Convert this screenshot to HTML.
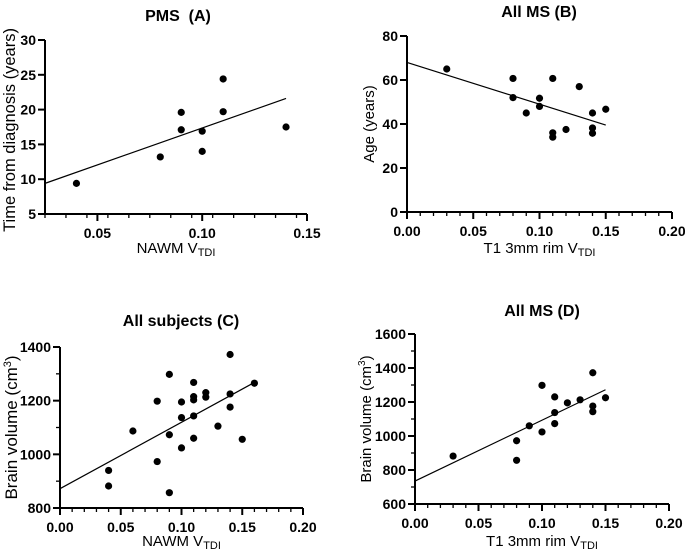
<!DOCTYPE html>
<html><head><meta charset="utf-8"><style>
html,body{margin:0;padding:0;background:#fff}
svg{display:block;font-family:"Liberation Sans",Arial,sans-serif}
</style></head><body>
<svg id="c" width="685" height="550" viewBox="0 0 685 550"></svg>
<script>
// Panel A data
const aX=[0.04,0.08,0.09,0.09,0.10,0.10,0.11,0.11,0.14];
const aY=[9.4,13.2,19.6,17.1,16.9,14.0,24.4,19.7,17.5];
const aFit=[[0.025,9.4],[0.14,21.6]];
const aXTicks=[0.05,0.10,0.15];
const aYTicks=[5,10,15,20,25,30];
// Panel B data
const bX=[0.03,0.08,0.08,0.09,0.10,0.10,0.11,0.11,0.11,0.12,0.13,0.14,0.14,0.14,0.15];
const bY=[65,60.7,52,45,51.7,48,60.7,36,34,37.5,57,45,38.2,35.8,46.7];
const bFit=[[0,68],[0.15,39.5]];
const bXTicks=[0,0.05,0.10,0.15,0.20];
const bYTicks=[0,20,40,60,80];
// Panel C data
const cX=[0.04,0.04,0.06,0.08,0.08,0.09,0.09,0.09,0.10,0.10,0.10,0.11,0.11,0.11,0.11,0.11,0.12,0.12,0.13,0.14,0.14,0.14,0.15,0.16];
const cY=[940,882,1087,1198,973,1298,1073,857,1195,1137,1024,1268,1215,1203,1143,1060,1230,1213,1105,1372,1225,1176,1056,1265];
const cFit=[[0,872],[0.16,1268]];
const cXTicks=[0,0.05,0.10,0.15,0.20];
const cYTicks=[800,1000,1200,1400];
// Panel D data
const dX=[0.03,0.08,0.08,0.09,0.10,0.10,0.11,0.11,0.11,0.12,0.13,0.14,0.14,0.14,0.15];
const dY=[882,972,857,1060,1298,1024,1230,1138,1073,1195,1213,1372,1176,1143,1225];
const dFit=[[0,735],[0.15,1272]];
const dXTicks=[0,0.05,0.10,0.15,0.20];
const dYTicks=[600,800,1000,1200,1400,1600];

const NS="http://www.w3.org/2000/svg";
const svg=document.getElementById('c');
function mk(tag,attrs,parent){const e=document.createElementNS(NS,tag);for(const k in attrs)e.setAttribute(k,attrs[k]);(parent||svg).appendChild(e);return e;}

function panel(o){
  const g=mk('g',{});
  
  
  const sx=v=>o.x0+(v-o.xmin)/(o.xmax-o.xmin)*(o.x1-o.x0);
  const sy=v=>o.y0-(v-o.ymin)/(o.ymax-o.ymin)*(o.y0-o.y1);
  const ax=mk('line',{x1:o.x0,y1:o.y0,x2:o.x1,y2:o.y0,stroke:'#000','stroke-width':2},g);
  
  
  const ay=mk('line',{x1:o.x0,y1:o.y0,x2:o.x0,y2:o.y1,stroke:'#000','stroke-width':2},g);
  
  
  for(let v=o.xmin;v<=o.xmax+1e-9;v+=0.01){const px=sx(v);mk('line',{x1:px,y1:o.y0,x2:px,y2:o.y0+4,stroke:'#000','stroke-width':1.3},g);}
  o.xt.forEach(v=>{const px=sx(v);mk('line',{x1:px,y1:o.y0,x2:px,y2:o.y0+7,stroke:'#000','stroke-width':2},g);
    const t=mk('text',{x:px,y:o.y0+24,'text-anchor':'middle','font-size':14,'font-weight':'bold'},g);t.textContent=v.toFixed(2);
    
    });
  if(o.yminor){for(let v=o.ymin;v<=o.ymax+1e-9;v+=o.yminor){const py=sy(v);mk('line',{x1:o.x0,y1:py,x2:o.x0-4,y2:py,stroke:'#000','stroke-width':1.3},g);}}
  o.yt.forEach(v=>{const py=sy(v);mk('line',{x1:o.x0,y1:py,x2:o.x0-7,y2:py,stroke:'#000','stroke-width':2},g);
    const t=mk('text',{x:o.x0-9,y:py+5,'text-anchor':'end','font-size':14,'font-weight':'bold'},g);t.textContent=v;
    
    });
  const f=mk('line',{x1:sx(o.fit[0][0]),y1:sy(o.fit[0][1]),x2:sx(o.fit[1][0]),y2:sy(o.fit[1][1]),stroke:'#000','stroke-width':1.2},g);
  
  
  o.xs.forEach((v,i)=>{const c=mk('circle',{cx:sx(v),cy:sy(o.ys[i]),r:3.6,fill:'#000'},g);
    
    });
  const ti=mk('text',{x:o.tx,y:o.ty,'text-anchor':'middle','font-size':16,'font-weight':'bold'},g);ti.textContent=o.title;
  
  
  const xl=mk('text',{x:(o.x0+o.x1)/2,y:o.xly,'text-anchor':'middle','font-size':15},g);
  xl.innerHTML=o.xlabel+' V<tspan font-size="11" dy="3">TDI</tspan>';
  
  
  const yc=o.ylc||(o.y0+o.y1)/2;
  const yl=mk('text',{x:o.ylx,y:yc,'text-anchor':'middle','font-size':o.yfs,transform:`rotate(-90 ${o.ylx} ${yc})`},g);
  yl.innerHTML=o.ylabel;
  
  
}
panel({name:'panel-a',x0:45,x1:307,xmin:0.025,xmax:0.15,y0:214,y1:40,ymin:5,ymax:30,xs:aX,ys:aY,fit:aFit,xt:aXTicks,yt:aYTicks,
  title:'PMS\u00a0 (A)',tx:178,ty:21,xlabel:'NAWM',xly:253,ylabel:'Time from diagnosis (years)',ylx:15,ylc:130,yfs:16.5});
panel({name:'panel-b',x0:407,x1:672,xmin:0,xmax:0.2,y0:212,y1:36,ymin:0,ymax:80,xs:bX,ys:bY,fit:bFit,xt:bXTicks,yt:bYTicks,
  title:'All MS (B)',tx:539,ty:17,xlabel:'T1 3mm rim',xly:253,ylabel:'Age (years)',ylx:374,yfs:15});
panel({name:'panel-c',x0:60,x1:303,xmin:0,xmax:0.2,y0:508,y1:347,ymin:800,ymax:1400,yminor:100,xs:cX,ys:cY,fit:cFit,xt:cXTicks,yt:cYTicks,
  title:'All subjects (C)',tx:181,ty:326,xlabel:'NAWM',xly:546,ylabel:'Brain volume (cm<tspan font-size="11" dy="-6">3</tspan><tspan dy="6">)</tspan>',ylx:17,yfs:17});
panel({name:'panel-d',x0:415,x1:669,xmin:0,xmax:0.2,y0:504,y1:334,ymin:600,ymax:1600,yminor:100,xs:dX,ys:dY,fit:dFit,xt:dXTicks,yt:dYTicks,
  title:'All MS (D)',tx:542,ty:316,xlabel:'T1 3mm rim',xly:546,ylabel:'Brain volume (cm<tspan font-size="10" dy="-6">3</tspan><tspan dy="6">)</tspan>',ylx:371,yfs:15});
</script>
</body></html>
